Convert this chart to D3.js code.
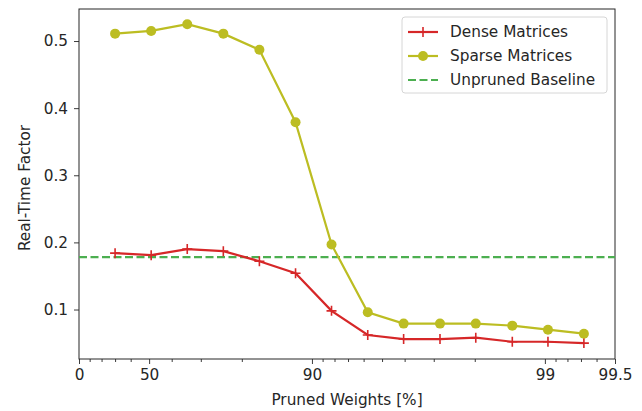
<!DOCTYPE html>
<html>
<head>
<meta charset="utf-8">
<script src="https://cdn.jsdelivr.net/npm/d3@7"></script>
<style>
  body { margin: 0; background: #fff; }
  text { font-family: "DejaVu Sans", sans-serif; fill: #262626; }
</style>
</head>
<body>
<div id="chart"></div>
<script>
// pruned weights in percent (one point per pruning step)
var prunedPct = [30, 51, 65.7, 75.99, 83.19, 88.24, 91.76, 94.24, 95.96, 97.18, 98.02, 98.62, 99.03, 99.32];
var denseRTF  = [0.184, 0.181, 0.190, 0.187, 0.172, 0.154, 0.098, 0.062, 0.056, 0.056, 0.058, 0.052, 0.052, 0.050];
var sparseRTF = [0.511, 0.515, 0.525, 0.511, 0.487, 0.379, 0.197, 0.096, 0.079, 0.079, 0.079, 0.076, 0.070, 0.064];
var baselineRTF = 0.178;

var xTickValues = [0, 50, 90, 99, 99.5];
var xTickLabels = ["0", "50", "90", "99", "99.5"];
var xMinorTicks = [10, 20, 30, 40, 60, 70, 80, 91, 92, 93, 94, 95, 96, 97, 98, 99.1, 99.2, 99.3, 99.4];
var yTickValues = [0.1, 0.2, 0.3, 0.4, 0.5];

var seriesNames = ["Dense Matrices", "Sparse Matrices", "Unpruned Baseline"];
var colors = { dense: "#d62728", sparse: "#bcbd22", base: "#4caf50" };

var width = 642, height = 411;
var margin = { top: 9, right: 27, bottom: 52, left: 79 };
var fs = 15.3;

var svg = d3.select("#chart").append("svg")
    .attr("width", width)
    .attr("height", height);

// x axis is logarithmic in the remaining weights (100 - pruned)
var xLog = d3.scaleLog()
    .domain([100, 0.5])
    .range([margin.left, width - margin.right]);
var x = function(p) { return xLog(100 - p); };

var y = d3.scaleLinear()
    .domain([0.0263, 0.5477])
    .range([height - margin.bottom, margin.top]);

var xAxis = d3.axisBottom(xLog)
    .tickValues(xTickValues.map(function(p) { return 100 - p; }))
    .tickFormat(function(d, i) { return xTickLabels[i]; })
    .tickSize(5)
    .tickPadding(5);

var xMinor = d3.axisBottom(xLog)
    .tickValues(xMinorTicks.map(function(p) { return 100 - p; }))
    .tickFormat("")
    .tickSize(3);

var yAxis = d3.axisLeft(y)
    .tickValues(yTickValues)
    .tickFormat(d3.format(".1f"))
    .tickSize(5)
    .tickPadding(6);

svg.append("g")
    .attr("transform", "translate(0," + (height - margin.bottom) + ")")
    .call(xAxis);
svg.append("g")
    .attr("transform", "translate(0," + (height - margin.bottom) + ")")
    .call(xMinor);
svg.append("g")
    .attr("transform", "translate(" + margin.left + ",0)")
    .call(yAxis);

svg.selectAll(".tick text").style("font-size", fs + "px").style("font-family", "DejaVu Sans").attr("fill", "#262626");
svg.selectAll(".tick line").attr("stroke", "#262626").attr("stroke-width", 0.9);
svg.selectAll(".domain").remove();

// frame
svg.append("rect")
    .attr("x", margin.left)
    .attr("y", margin.top)
    .attr("width", width - margin.left - margin.right)
    .attr("height", height - margin.top - margin.bottom)
    .attr("fill", "none")
    .attr("stroke", "#262626")
    .attr("stroke-width", 1);

// baseline
svg.append("line")
    .attr("x1", margin.left)
    .attr("x2", width - margin.right)
    .attr("y1", y(baselineRTF))
    .attr("y2", y(baselineRTF))
    .attr("stroke", colors.base)
    .attr("stroke-width", 2.2)
    .attr("stroke-dasharray", "8,3.5");

var line = d3.line()
    .x(function(d) { return x(d[0]); })
    .y(function(d) { return y(d[1]); });

var dense = d3.zip(prunedPct, denseRTF);
var sparse = d3.zip(prunedPct, sparseRTF);

svg.append("path")
    .datum(dense)
    .attr("d", line)
    .attr("fill", "none")
    .attr("stroke", colors.dense)
    .attr("stroke-width", 2.2);

svg.append("g").selectAll("path")
    .data(dense)
    .enter().append("path")
    .attr("d", "M-5,0H5M0,-5V5")
    .attr("transform", function(d) { return "translate(" + x(d[0]) + "," + y(d[1]) + ")"; })
    .attr("stroke", colors.dense)
    .attr("stroke-width", 1.6);

svg.append("path")
    .datum(sparse)
    .attr("d", line)
    .attr("fill", "none")
    .attr("stroke", colors.sparse)
    .attr("stroke-width", 2.2);

svg.append("g").selectAll("circle")
    .data(sparse)
    .enter().append("circle")
    .attr("cx", function(d) { return x(d[0]); })
    .attr("cy", function(d) { return y(d[1]); })
    .attr("r", 5)
    .attr("fill", colors.sparse);

// axis labels
svg.append("text")
    .attr("x", (margin.left + width - margin.right) / 2)
    .attr("y", 405)
    .attr("text-anchor", "middle")
    .style("font-size", fs + "px")
    .text("Pruned Weights [%]");

svg.append("text")
    .attr("transform", "translate(30,188) rotate(-90)")
    .attr("text-anchor", "middle")
    .style("font-size", fs + "px")
    .text("Real-Time Factor");

// legend
var legend = svg.append("g");
legend.append("rect")
    .attr("x", 402)
    .attr("y", 17)
    .attr("width", 205)
    .attr("height", 76)
    .attr("rx", 3)
    .attr("fill", "#fff")
    .attr("fill-opacity", 0.8)
    .attr("stroke", "#d6d6d6");

var rows = legend.selectAll(".row")
    .data(seriesNames)
    .enter().append("g")
    .attr("class", "row")
    .attr("transform", function(d, i) { return "translate(0," + (32 + i * 24) + ")"; });

rows.append("text")
    .attr("x", 450)
    .attr("dy", "0.35em")
    .style("font-size", fs + "px")
    .text(function(d) { return d; });

rows.append("line")
    .attr("x1", 408)
    .attr("x2", 438)
    .attr("stroke", function(d, i) { return [colors.dense, colors.sparse, colors.base][i]; })
    .attr("stroke-width", 2.2)
    .attr("stroke-dasharray", function(d, i) { return i == 2 ? "8,3.5" : null; });

rows.filter(function(d, i) { return i == 0; }).append("path")
    .attr("d", "M418,0H428M423,-5V5")
    .attr("stroke", colors.dense)
    .attr("stroke-width", 1.6);

rows.filter(function(d, i) { return i == 1; }).append("circle")
    .attr("cx", 423)
    .attr("r", 5)
    .attr("fill", colors.sparse);
</script>
</body>
</html>
